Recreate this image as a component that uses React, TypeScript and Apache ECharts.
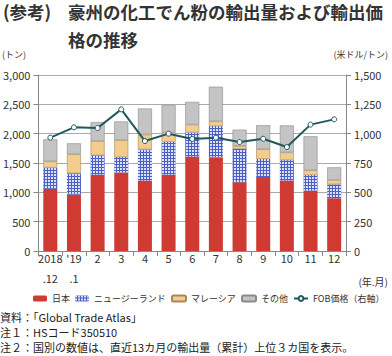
import React, { useEffect, useRef } from "react";
import * as echarts from "echarts";

const categories = ["2018\n.12", "'19\n.1", "2", "3", "4", "5", "6", "7", "8", "9", "10", "11", "12"];
const japan = [1060, 960, 1300, 1340, 1200, 1300, 1610, 1600, 1170, 1260, 1200, 1030, 900];
const newZealand = [360, 364, 330, 260, 530, 560, 410, 530, 570, 310, 350, 265, 236];
const malaysia = [108, 324, 244, 290, 256, 160, 136, 80, 50, 165, 130, 80, 74];
const others = [375, 187, 324, 318, 443, 466, 386, 591, 278, 409, 460, 580, 216];
const fobPrice = [966, 1054, 1048, 1207, 937, 1000, 955, 966, 929, 957, 886, 1077, 1122];

const FONT = "'Noto Sans CJK JP', 'Noto Sans', sans-serif";

export default function App() {
  const ref = useRef<HTMLDivElement>(null);
  useEffect(() => {
    const chart = echarts.init(ref.current!, null, { renderer: "svg" });
    const barW = 14;
    chart.setOption({
      animation: false,
      textStyle: { fontFamily: FONT },
      grid: { left: 35, right: 46, top: 75, bottom: 105 },
      legend: {
        top: 294,
        left: 33,
        right: 0,
        padding: 0,
        itemWidth: 14,
        itemHeight: 6,
        itemGap: 5,
        textStyle: { fontSize: 9, color: "#333", fontFamily: FONT },
        data: ["日本", "ニュージーランド", "マレーシア", "その他", "FOB価格（右軸）"],
      },
      xAxis: {
        type: "category",
        data: categories,
        axisLine: { lineStyle: { color: "#888" } },
        axisTick: { show: true, lineStyle: { color: "#888" } },
        axisLabel: { fontSize: 11, color: "#333", lineHeight: 20, margin: -3, interval: 0 },
      },
      yAxis: [
        {
          type: "value",
          min: 0,
          max: 3000,
          interval: 500,
          axisLine: { show: true, lineStyle: { color: "#888" } },
          axisTick: { show: true, lineStyle: { color: "#888" } },
          axisLabel: {
            fontSize: 11,
            color: "#333",
            formatter: (v: number) => v.toLocaleString("en-US"),
          },
          splitLine: { lineStyle: { color: "#aaa" } },
        },
        {
          type: "value",
          min: 0,
          max: 1500,
          interval: 250,
          position: "right",
          axisLine: { show: true, lineStyle: { color: "#888" } },
          axisTick: { show: true, lineStyle: { color: "#888" } },
          axisLabel: {
            fontSize: 11,
            color: "#333",
            formatter: (v: number) => v.toLocaleString("en-US"),
          },
          splitLine: { show: false },
        },
      ],
      series: [
        {
          name: "日本",
          type: "bar",
          stack: "a",
          barWidth: barW,
          data: japan,
          itemStyle: { color: "#cf3a33" },
        },
        {
          name: "ニュージーランド",
          type: "bar",
          stack: "a",
          barWidth: barW,
          data: newZealand,
          itemStyle: {
            color: "#4a5fc8",
            decal: {
              symbol: "rect",
              symbolSize: 0.9,
              color: "rgba(255,255,255,0.9)",
              dashArrayX: [[2, 1]],
              dashArrayY: [2, 1],
              rotation: 0,
            },
          },
        },
        {
          name: "マレーシア",
          type: "bar",
          stack: "a",
          barWidth: barW,
          data: malaysia,
          itemStyle: { color: "#f2cd8e", borderColor: "#a8875a", borderWidth: 0.6 },
        },
        {
          name: "その他",
          type: "bar",
          stack: "a",
          barWidth: barW,
          data: others,
          itemStyle: { color: "#c4c4c4", borderColor: "#8a8a8a", borderWidth: 0.6 },
        },
        {
          name: "FOB価格（右軸）",
          type: "line",
          yAxisIndex: 1,
          data: fobPrice,
          symbol: "circle",
          symbolSize: 5,
          lineStyle: { color: "#20585c", width: 2 },
          itemStyle: { color: "#fff", borderColor: "#20585c", borderWidth: 1 },
        },
      ],
      graphic: [
        { type: "text", left: 3, top: 3, style: { text: "(参考)", font: `bold 17.5px ${FONT}`, fill: "#333" } },
        { type: "text", left: 68, top: 3, style: { text: "豪州の化工でん粉の輸出量および輸出価", font: `bold 17.5px ${FONT}`, fill: "#333" } },
        { type: "text", left: 68, top: 31, style: { text: "格の推移", font: `bold 17.5px ${FONT}`, fill: "#333" } },
        { type: "text", left: 2, top: 50, style: { text: "(トン)", font: `9px ${FONT}`, fill: "#333" } },
        { type: "text", right: 4, top: 50, style: { text: "(米ドル/トン)", font: `9px ${FONT}`, fill: "#333" } },
        { type: "text", right: 4, top: 276, style: { text: "(年.月)", font: `10px ${FONT}`, fill: "#333" } },
        { type: "text", left: 0, top: 311, style: { text: "資料：「Global Trade Atlas」", font: `11px ${FONT}`, fill: "#222" } },
        { type: "text", left: 0, top: 326, style: { text: "注１：HSコード350510", font: `11px ${FONT}`, fill: "#222" } },
        { type: "text", left: 0, top: 341, style: { text: "注２：国別の数値は、直近13カ月の輸出量（累計）上位３カ国を表示。", font: `11px ${FONT}`, fill: "#222" } },
      ],
    });
    return () => chart.dispose();
  }, []);
  return <div ref={ref} style={{ width: 392, height: 356, position: "absolute", left: 0, top: 0 }} />;
}
